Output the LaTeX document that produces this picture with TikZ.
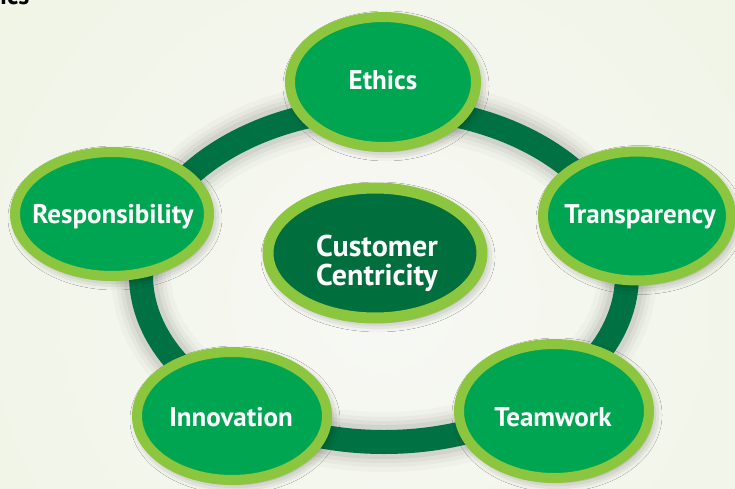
\documentclass[tikz,border=0pt]{standalone}
\usepackage{fontspec}
\setmainfont{PT Sans}
\usetikzlibrary{shapes.geometric,shadows.blur}

\definecolor{bgtop}{HTML}{EDF3DF}
\definecolor{bgmid}{HTML}{F7F8F4}
\definecolor{ringgreen}{HTML}{007142}
\definecolor{leafgreen}{HTML}{8CC63F}
\definecolor{midgreen}{HTML}{00A551}
\definecolor{deepgreen}{HTML}{006F3D}

\begin{document}
\begin{tikzpicture}[x=1pt,y=1pt,
  bubble/.style={ellipse, draw=leafgreen, line width=10pt, fill=midgreen,
    inner sep=0pt,
    blur shadow={shadow xshift=3pt, shadow yshift=-4pt,
      shadow blur radius=10pt, shadow opacity=40}},
  hub/.style={bubble, fill=deepgreen, line width=11pt},
  lbl/.style={text=white, anchor=base, inner sep=0pt,
    font=\bfseries\fontsize{27}{30}\selectfont},
  hublbl/.style={lbl, font=\bfseries\fontsize{30}{32}\selectfont}]

\useasboundingbox (0,0) rectangle (735,488);
\clip (0,0) rectangle (735,488);

% background wash: pale green at the top, lighter towards the middle
\fill[bgtop] (0,0) rectangle (735,488);
\shade[inner color=bgmid, outer color=bgtop] (384,190) circle (720);

% heading tail at the top edge
\node[anchor=base west, inner sep=0pt, text=black,
  font=\bfseries\fontsize{26}{28}\selectfont] (heading) at (0,483) {ics};

% soft haze under the ring
\foreach \w/\o in {60/0.025, 50/0.03, 42/0.04, 34/0.05}
  \draw[black, opacity=\o, line width=\w pt] (384,213) ellipse [x radius=243, y radius=167];
% the ring
\draw[ringgreen, line width=24pt] (384,213) ellipse [x radius=243, y radius=167];

% value bubbles
\node[bubble, minimum width=186, minimum height=130] (ethics) at (383,406) {};
\node[bubble, minimum width=194, minimum height=124] (resp) at (112,274) {};
\node[bubble, minimum width=188, minimum height=129] (transp) at (637,272) {};
\node[bubble, minimum width=190, minimum height=128] (innov) at (232,72) {};
\node[bubble, minimum width=190, minimum height=134] (team) at (554,77) {};
\node[hub, minimum width=214, minimum height=130] (hub) at (375,235) {};

% labels
\node[lbl] (ethics-t) at (383,398) {Ethics};
\node[lbl] (resp-t) at (113,265) {Responsibility};
\node[lbl] (transp-t) at (640,265) {Transparency};
\node[lbl] (innov-t) at (231,62) {Innovation};
\node[lbl] (team-t) at (553,62) {Teamwork};
\node[hublbl] (hub-t1) at (377,232) {Customer};
\node[hublbl] (hub-t2) at (377,203) {Centricity};
\end{tikzpicture}
\end{document}
